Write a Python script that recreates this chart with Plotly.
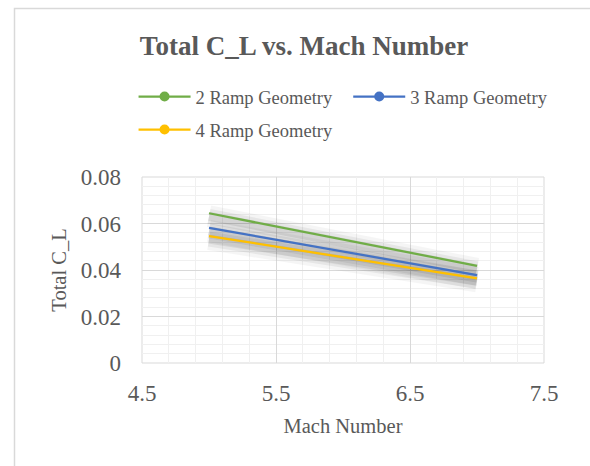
import plotly.graph_objects as go

mach = [5.0, 5.5, 6.0, 6.5, 7.0]
cl_2ramp = [0.0644, 0.0588, 0.0532, 0.0475, 0.0418]
cl_3ramp = [0.0581, 0.0530, 0.0480, 0.0429, 0.0378]
cl_4ramp = [0.0546, 0.0501, 0.0456, 0.0410, 0.0364]

names = ["2 Ramp Geometry", "3 Ramp Geometry", "4 Ramp Geometry"]
colors = ["#70ad47", "#4472c4", "#ffc000"]
legend_ids = ["legend", "legend2", "legend3"]
series = [cl_2ramp, cl_3ramp, cl_4ramp]

FONT = "Liberation Serif"
GREY = "#595959"

fig = go.Figure()

# soft shadow beneath the lines
shadow_offset = 0.0013
for ys in series:
    sy = [v - shadow_offset for v in ys]
    for w, a in [(22, 0.04), (15, 0.06), (9, 0.08)]:
        fig.add_trace(go.Scatter(x=mach, y=sy, mode="lines",
                                 line=dict(color=f"rgba(0,0,0,{a})", width=w),
                                 showlegend=False, hoverinfo="skip"))

for name, ys, c, lg in zip(names, series, colors, legend_ids):
    fig.add_trace(go.Scatter(x=mach, y=ys, mode="lines", name=name,
                             line=dict(color=c, width=2.25), showlegend=False))
    fig.add_trace(go.Scatter(x=[None], y=[None], mode="lines+markers", name=name,
                             line=dict(color=c, width=2.25), legend=lg,
                             marker=dict(color=c, size=10)))

legend_common = dict(orientation="h", xanchor="left", yanchor="middle",
                     font=dict(family=FONT, size=18.5, color=GREY),
                     itemwidth=52, bgcolor="rgba(0,0,0,0)")

fig.update_layout(
    width=590, height=466,
    margin=dict(l=142, r=46, t=177, b=103),
    paper_bgcolor="white", plot_bgcolor="white",
    font=dict(family=FONT, color=GREY),
    title=dict(text="<b>Total C_L vs. Mach Number</b>", x=304 / 590, xanchor="center",
               y=1 - 46 / 466, yanchor="middle",
               font=dict(family=FONT, size=27, color=GREY)),
    legend=dict(x=-0.021, y=(363 - 97) / 186, **legend_common),
    legend2=dict(x=0.513, y=(363 - 97) / 186, **legend_common),
    legend3=dict(x=-0.021, y=(363 - 130) / 186, **legend_common),
    showlegend=True,
)

fig.update_xaxes(range=[4.5, 7.5], dtick=1, tick0=4.5, showgrid=True,
                 gridcolor="#d9d9d9", gridwidth=1, zeroline=False,
                 showline=False, ticks="",
                 minor=dict(dtick=0.2, tick0=4.5, showgrid=True, gridcolor="#f0f0f0", gridwidth=1),
                 tickfont=dict(family=FONT, size=23, color=GREY),
                 ticklabelstandoff=14,
                 title=dict(text="Mach Number", font=dict(family=FONT, size=20.5, color=GREY), standoff=13))
fig.update_yaxes(range=[0, 0.08], dtick=0.02, showgrid=True,
                 gridcolor="#d9d9d9", gridwidth=1, zeroline=False,
                 showline=False, ticks="", tickformat="~g",
                 minor=dict(dtick=0.004, showgrid=True, gridcolor="#f0f0f0", gridwidth=1),
                 tickfont=dict(family=FONT, size=23, color=GREY),
                 ticklabelstandoff=20,
                 title=dict(text="Total C_L", font=dict(family=FONT, size=20.5, color=GREY), standoff=8))

# plot-area border and outer chart frame
fig.add_shape(type="rect", xref="paper", yref="paper", x0=0, y0=0, x1=1, y1=1,
              line=dict(color="#d9d9d9", width=1), layer="below")
fig.add_shape(type="rect", xref="paper", yref="paper",
              x0=(14.5 - 142) / 402, y0=-2, x1=2, y1=(363 - 8.5) / 186,
              line=dict(color="#d9d9d9", width=1.5))

fig.write_html("out.html")
